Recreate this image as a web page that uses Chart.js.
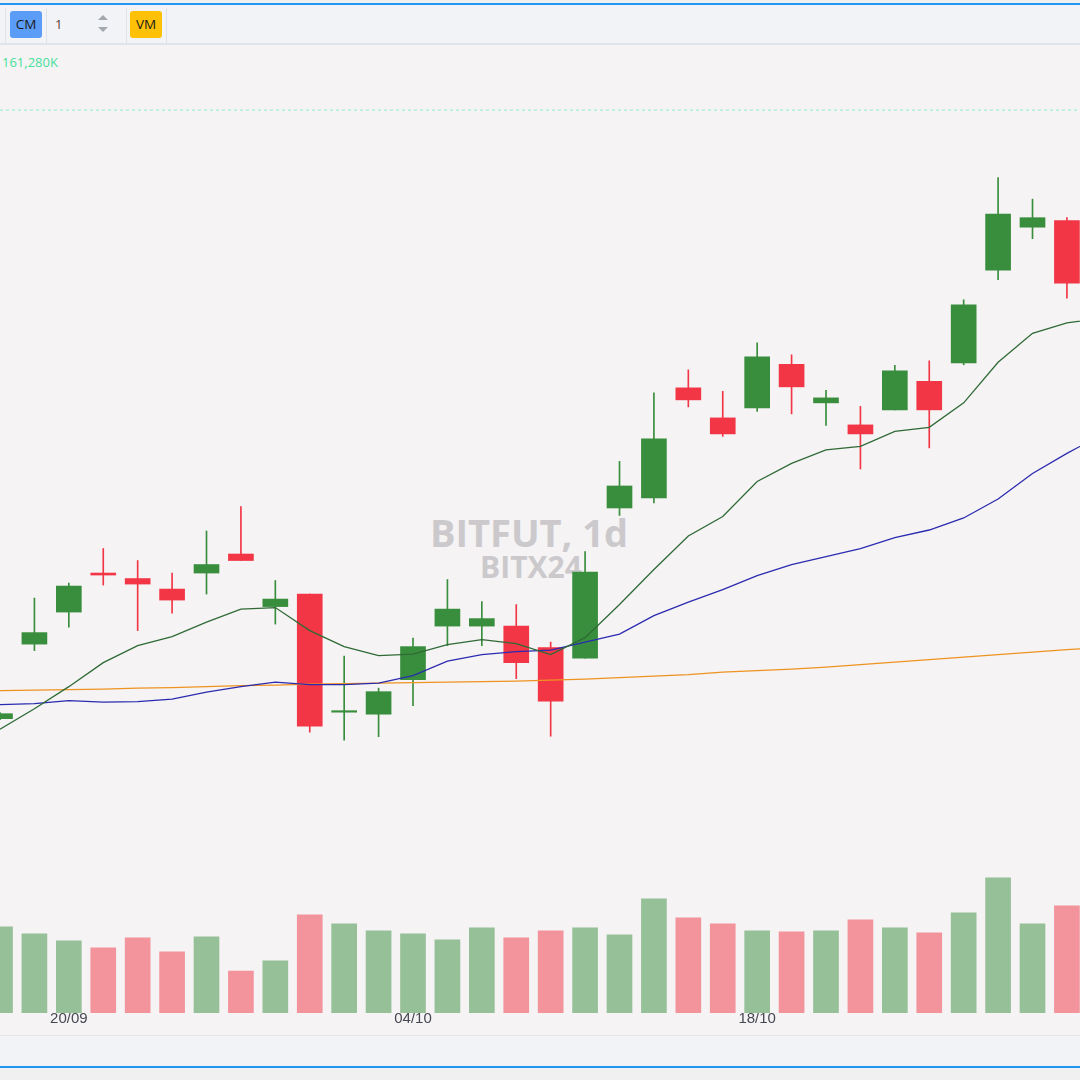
<!DOCTYPE html>
<html>
<head>
<meta charset="utf-8">
<script src="https://cdn.jsdelivr.net/npm/chart.js@4.4.1/dist/chart.umd.min.js"></script>
<style>
  html, body { margin: 0; padding: 0; }
  body { width: 1080px; height: 1080px; background: #f0f0f0; position: relative; overflow: hidden;
         font-family: "Open Sans", "Noto Sans", sans-serif; }
  #topline { position: absolute; left: 0; top: 3px; width: 1080px; height: 2px; background: #2196f3; }
  #toolbar { position: absolute; left: 0; top: 5px; width: 1080px; height: 38px; background: #f1f3f7;
             border-bottom: 2px solid #e0e3e8; }
  .sep { position: absolute; top: 3px; width: 1px; height: 35px; background: #dfe2e7; }
  .btn { position: absolute; top: 6px; width: 32px; height: 27px; border-radius: 3px;
         font-size: 13.5px; line-height: 27px; text-align: center; color: #1a1a1a; }
  #cm { left: 10px; background: #5b9cf6; }
  #vm { left: 130px; background: #ffc107; }
  #num { position: absolute; left: 55px; top: 7px; font-size: 13px; line-height: 25px; color: #5d4037; }
  .arr { position: absolute; left: 98px; width: 0; height: 0; border-left: 5px solid transparent; border-right: 5px solid transparent; }
  #up { top: 10px; border-bottom: 5px solid #a3a7ae; }
  #down { top: 22px; border-top: 5px solid #a3a7ae; }
  #main { position: absolute; left: 0; top: 45px; width: 1080px; height: 990px; background: #f5f3f4; }
  #mark1 { position: absolute; left: 0; width: 1058px; top: 461px; text-align: center; font-weight: 700;
           font-size: 38px; color: #cbc9cc; white-space: nowrap; }
  #mark2 { position: absolute; left: 0; width: 1062px; top: 501px; text-align: center; font-weight: 700;
           font-size: 30px; color: #cbc9cc; white-space: nowrap; }
  #priceLbl { position: absolute; left: 2px; top: 8px; font-size: 13px; color: #47e09b; }
  #wrap { position: absolute; left: 0; top: 0; width: 1080px; height: 990px; }
  #footer { position: absolute; left: 0; top: 1035px; width: 1080px; height: 31px; background: #f2f3f7;
            border-top: 1px solid #e3e5e9; box-sizing: border-box; }
  #botline { position: absolute; left: 0; top: 1066px; width: 1080px; height: 2px; background: #2196f3; }
</style>
</head>
<body>
<div id="topline"></div>
<div id="toolbar">
  <div class="sep" style="left:5px"></div>
  <div class="btn" id="cm">CM</div>
  <div class="sep" style="left:46px"></div>
  <div id="num">1</div>
  <div class="arr" id="up"></div>
  <div class="arr" id="down"></div>
  <div class="sep" style="left:126px"></div>
  <div class="btn" id="vm">VM</div>
  <div class="sep" style="left:166px"></div>
</div>
<div id="main">
  <div id="mark1">BITFUT, 1d</div>
  <div id="mark2">BITX24</div>
  <div id="priceLbl">161,280K</div>
  <div id="wrap"><canvas id="myChart"></canvas></div>
</div>
<div id="footer"></div>
<div id="botline"></div>

<script>
// daily bars, weekdays only
const dates = [
  "18/09", "19/09", "20/09", "23/09", "24/09", "25/09", "26/09", "27/09",
  "30/09", "01/10", "02/10", "03/10", "04/10", "07/10", "08/10", "09/10",
  "10/10", "11/10", "14/10", "15/10", "16/10", "17/10", "18/10", "21/10",
  "22/10", "23/10", "24/10", "25/10", "28/10", "29/10", "30/10", "31/10",
];
const tickDays = ["20/09", "04/10", "18/10"];

const opens = [
  149120, 150610, 151250, 152030, 151920, 151710, 152030, 152410,
  151360, 151610, 149250, 149210, 149900, 150970, 150970, 150970,
  150540, 150330, 153330, 153530, 155730, 155130, 155330, 156200,
  155430, 154990, 155290, 155860, 156230, 158080, 158940, 159070,
];
const highs = [
  149240, 151530, 151830, 152520, 152280, 152030, 152870, 153360,
  151880, 151610, 150370, 149730, 150730, 151900, 151460, 151400,
  150650, 152460, 154260, 155630, 156090, 155660, 156630, 156390,
  155680, 155360, 156180, 156270, 157490, 159930, 159500, 159130,
];
const lows = [
  149100, 150480, 150950, 151790, 150880, 151230, 151610, 152280,
  151010, 148850, 148690, 148760, 149380, 150580, 150580, 149920,
  148770, 150330, 153180, 153430, 155350, 154760, 155260, 155210,
  154980, 154110, 155290, 154530, 156190, 157890, 158710, 157520,
];
const closes = [
  149220, 150840, 151770, 151990, 151810, 151490, 152200, 152280,
  151510, 148970, 149280, 149660, 150560, 151310, 151120, 150240,
  149470, 152050, 153770, 154710, 155490, 154810, 156350, 155750,
  155530, 154810, 156070, 155290, 157390, 159200, 159130, 157820,
];
const volumes = [
  8600, 7900, 7200, 6500, 7500, 6100, 7600, 4200,
  5200, 9800, 8900, 8200, 7900, 7300, 8500, 7500,
  8200, 8500, 7800, 11400, 9500, 8900, 8200, 8100,
  8200, 9300, 8500, 8000, 10000, 13500, 8900, 10700,
];
// moving averages; the last value belongs to the next bar, just past the right edge
const maFast = [
  148910, 149320, 149760, 150240, 150580, 150760, 151050, 151310,
  151340, 150880, 150560, 150380, 150410, 150600, 150700, 150620,
  150400, 150740, 151400, 152100, 152770, 153160, 153860, 154220,
  154490, 154560, 154860, 154940, 155430, 156240, 156820, 157030,
  157120,
];
const maMid = [
  149400, 149420, 149480, 149450, 149460, 149510, 149650, 149760,
  149850, 149800, 149800, 149830, 149980, 150270, 150400, 150460,
  150490, 150650, 150810, 151180, 151450, 151700, 151980, 152200,
  152360, 152520, 152740, 152890, 153130, 153510, 154020, 154420,
  154790,
];
const maSlow = [
  149680, 149690, 149700, 149710, 149730, 149740, 149760, 149780,
  149790, 149810, 149820, 149830, 149840, 149850, 149860, 149870,
  149890, 149910, 149940, 149970, 150000, 150050, 150080, 150110,
  150150, 150200, 150250, 150300, 150350, 150400, 150450, 150500,
  150540,
];
const priceLine = 161280;

const upColor = "#388e3c";
const downColor = "#f23645";
const upVol = "rgba(56,142,60,0.5)";
const downVol = "rgba(242,54,69,0.5)";

const isUp = opens.map((o, i) => closes[i] >= o);
const xMin = 0;
const xMax = 31.38;

const pts = (arr) => arr.map((v, i) => ({ x: i, y: v }));

const ctx = document.getElementById("myChart").getContext("2d");
const chart = new Chart(ctx, {
  type: "bar",
  data: {
    datasets: [
      {
        type: "line",
        label: "price",
        data: [{ x: xMin, y: priceLine }, { x: xMax, y: priceLine }],
        borderColor: "#86eec6",
        borderWidth: 1,
        borderDash: [3, 3],
        pointRadius: 0,
        order: 0,
      },
      {
        type: "line",
        label: "MA fast",
        data: pts(maFast),
        borderColor: "#2f6a36",
        borderWidth: 1.3,
        pointRadius: 0,
        tension: 0,
        order: 0,
      },
      {
        type: "line",
        label: "MA mid",
        data: pts(maMid),
        borderColor: "#2b2bb0",
        borderWidth: 1.3,
        pointRadius: 0,
        tension: 0,
        order: 0,
      },
      {
        type: "line",
        label: "MA slow",
        data: pts(maSlow),
        borderColor: "#ef9320",
        borderWidth: 1.3,
        pointRadius: 0,
        tension: 0,
        order: 0,
      },
      {
        label: "body",
        data: opens.map((o, i) => ({ x: i, y: [o, closes[i]] })),
        backgroundColor: isUp.map((u) => (u ? upColor : downColor)),
        barThickness: 25,
        minBarLength: 1,
        grouped: false,
        order: 1,
      },
      {
        label: "wick",
        data: lows.map((l, i) => ({ x: i, y: [l, highs[i]] })),
        backgroundColor: isUp.map((u) => (u ? upColor : downColor)),
        barThickness: 1,
        grouped: false,
        order: 2,
      },
      {
        label: "volume",
        data: pts(volumes),
        yAxisID: "yVol",
        backgroundColor: isUp.map((u) => (u ? upVol : downVol)),
        barThickness: 25,
        grouped: false,
        order: 3,
      },
    ],
  },
  options: {
    responsive: true,
    maintainAspectRatio: false,
    animation: false,
    devicePixelRatio: 1,
    layout: { padding: { left: 0, right: 0, top: 0, bottom: 10 } },
    plugins: { legend: { display: false }, tooltip: { enabled: false } },
    scales: {
      x: {
        type: "linear",
        min: xMin,
        max: xMax,
        offset: false,
        grid: { display: false, drawTicks: false },
        border: { display: false },
        afterBuildTicks: (axis) => {
          axis.ticks = tickDays.map((d) => ({ value: dates.indexOf(d) }));
        },
        ticks: {
          autoSkip: false,
          maxRotation: 0,
          padding: -3,
          color: "#454853",
          font: { family: "'Liberation Sans', Arial, sans-serif", size: 15 },
          callback: (v) => dates[v],
        },
      },
      y: {
        display: false,
        min: 143240,
        max: 162580,
      },
      yVol: {
        display: false,
        min: 0,
        max: 96700,
      },
    },
  },
});
</script>
</body>
</html>
